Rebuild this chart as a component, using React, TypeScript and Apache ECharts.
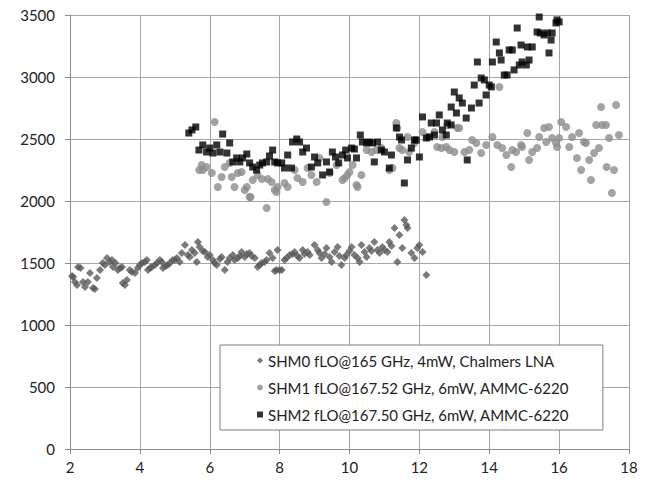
import React, { useEffect, useRef } from "react";
import * as echarts from "echarts";

const xTicks = { min: 2, max: 18, interval: 2 };
const yTicks = { min: 0, max: 3500, interval: 500 };

const seriesNames = [
  "SHM0 fLO@165 GHz, 4mW, Chalmers LNA",
  "SHM1 fLO@167.52 GHz, 6mW, AMMC-6220",
  "SHM2 fLO@167.50 GHz, 6mW, AMMC-6220",
];

const shm0: [number, number][] = [
  [2.06, 1395], [2.09, 1387], [2.14, 1347], [2.2, 1323], [2.23, 1468], [2.3, 1460], [2.37, 1347],
  [2.43, 1307], [2.51, 1347], [2.57, 1419], [2.66, 1298], [2.71, 1290], [2.77, 1379], [2.86, 1443],
  [2.94, 1500], [3.0, 1484], [3.06, 1540], [3.14, 1508], [3.2, 1524], [3.23, 1468], [3.3, 1500],
  [3.37, 1443], [3.43, 1460], [3.49, 1468], [3.51, 1339], [3.57, 1323], [3.63, 1363], [3.71, 1443],
  [3.77, 1427], [3.86, 1419], [3.94, 1460], [4.0, 1484], [4.06, 1500], [4.14, 1508], [4.2, 1524],
  [4.23, 1443], [4.29, 1460], [4.34, 1468], [4.43, 1484], [4.49, 1500], [4.57, 1524], [4.63, 1508],
  [4.66, 1460], [4.74, 1476], [4.8, 1484], [4.86, 1500], [4.94, 1524], [5.0, 1524], [5.06, 1540],
  [5.14, 1508], [5.2, 1581], [5.29, 1645], [5.37, 1565], [5.43, 1548], [5.49, 1605], [5.57, 1581],
  [5.63, 1508], [5.66, 1669], [5.71, 1629], [5.8, 1597], [5.86, 1589], [5.94, 1548], [6.0, 1565],
  [6.09, 1524], [6.14, 1500], [6.2, 1484], [6.29, 1532], [6.34, 1548], [6.43, 1443], [6.51, 1508],
  [6.57, 1540], [6.66, 1565], [6.71, 1524], [6.8, 1540], [6.86, 1556], [6.91, 1589], [7.0, 1548],
  [7.06, 1573], [7.14, 1581], [7.2, 1556], [7.29, 1540], [7.37, 1468], [7.43, 1484], [7.49, 1500],
  [7.57, 1508], [7.63, 1524], [7.71, 1581], [7.8, 1540], [7.86, 1435], [7.91, 1443], [7.94, 1605],
  [8.0, 1443], [8.06, 1443], [8.14, 1524], [8.2, 1540], [8.29, 1565], [8.37, 1573], [8.43, 1589],
  [8.51, 1556], [8.57, 1540], [8.66, 1605], [8.71, 1573], [8.8, 1589], [8.86, 1565], [9.0, 1645],
  [9.09, 1605], [9.14, 1581], [9.2, 1540], [9.29, 1573], [9.34, 1621], [9.43, 1548], [9.49, 1508],
  [9.57, 1589], [9.66, 1629], [9.71, 1556], [9.77, 1484], [9.86, 1540], [9.91, 1565], [10.0, 1597],
  [10.06, 1629], [10.14, 1565], [10.23, 1540], [10.29, 1508], [10.34, 1645], [10.43, 1589],
  [10.49, 1548], [10.57, 1621], [10.63, 1597], [10.71, 1669], [10.8, 1605], [10.86, 1581],
  [10.94, 1629], [11.0, 1605], [11.09, 1589], [11.14, 1669], [11.2, 1637], [11.29, 1782],
  [11.37, 1508], [11.43, 1726], [11.51, 1621], [11.57, 1847], [11.63, 1806], [11.66, 1782],
  [11.77, 1581], [11.86, 1540], [11.94, 1621], [12.0, 1645], [12.09, 1589], [12.2, 1403],
];

const shm1: [number, number][] = [
  [5.7, 2250], [5.77, 2290], [5.8, 2250], [5.91, 2274], [6.06, 2226], [6.14, 2637], [6.23, 2113],
  [6.34, 2194], [6.43, 2274], [6.57, 2307], [6.63, 2194], [6.71, 2113], [6.8, 2226], [6.91, 2234],
  [7.0, 2089], [7.06, 2113], [7.14, 2032], [7.17, 2032], [7.23, 2169], [7.37, 2210], [7.49, 2177],
  [7.63, 1944], [7.66, 2177], [7.77, 2153], [7.86, 2089], [7.91, 2073], [7.94, 2113], [8.14, 2145],
  [8.23, 2113], [8.43, 2250], [8.51, 2186], [8.66, 2153], [8.8, 2266], [8.91, 2210], [9.06, 2153],
  [9.14, 2347], [9.34, 1992], [9.43, 2226], [9.63, 2290], [9.8, 2169], [9.86, 2186], [9.94, 2210],
  [10.0, 2234], [10.09, 2290], [10.2, 2129], [10.23, 2113], [10.34, 2210], [10.49, 2411],
  [10.63, 2395], [10.77, 2411], [10.91, 2427], [11.14, 2250], [11.23, 2266], [11.34, 2629],
  [11.37, 2589], [11.43, 2427], [11.51, 2411], [11.66, 2516], [11.71, 2395], [11.86, 2468],
  [12.09, 2557], [12.23, 2516], [12.43, 2557], [12.51, 2435], [12.63, 2427], [12.66, 2516],
  [12.77, 2435], [12.8, 2613], [12.86, 2411], [13.0, 2395], [13.09, 2589], [13.14, 2589],
  [13.29, 2395], [13.43, 2411], [13.51, 2492], [13.63, 2468], [13.77, 2387], [13.91, 2452],
  [14.09, 2516], [14.23, 2452], [14.29, 2919], [14.37, 2427], [14.49, 2371], [14.63, 2274],
  [14.66, 2411], [14.77, 2395], [14.91, 2452], [14.94, 2435], [15.09, 2548], [15.14, 2331],
  [15.23, 2395], [15.37, 2427], [15.43, 2516], [15.57, 2589], [15.63, 2476], [15.71, 2597],
  [15.8, 2508], [15.91, 2468], [15.94, 2435], [16.0, 2508], [16.06, 2637], [16.2, 2597],
  [16.29, 2435], [16.37, 2516], [16.51, 2347], [16.57, 2548], [16.63, 2250], [16.71, 2476],
  [16.77, 2468], [16.86, 2331], [16.91, 2169], [17.0, 2387], [17.06, 2613], [17.14, 2427],
  [17.2, 2758], [17.23, 2613], [17.34, 2613], [17.36, 2274], [17.43, 2508], [17.51, 2065],
  [17.57, 2250], [17.63, 2774], [17.71, 2532],
];

const shm2: [number, number][] = [
  [5.4, 2548], [5.49, 2573], [5.6, 2597], [5.69, 2411], [5.8, 2452], [5.91, 2395], [6.0, 2427],
  [6.09, 2387], [6.2, 2452], [6.29, 2395], [6.37, 2540], [6.49, 2387], [6.57, 2468], [6.66, 2315],
  [6.77, 2347], [6.86, 2315], [6.94, 2347], [7.06, 2379], [7.14, 2307], [7.23, 2274], [7.34, 2250],
  [7.43, 2290], [7.51, 2307], [7.63, 2315], [7.71, 2363], [7.8, 2411], [7.86, 2315], [7.94, 2307],
  [8.06, 2307], [8.14, 2266], [8.23, 2371], [8.34, 2266], [8.37, 2476], [8.49, 2500], [8.57, 2476],
  [8.66, 2395], [8.77, 2427], [8.91, 2274], [9.0, 2355], [9.09, 2307], [9.23, 2210], [9.34, 2315],
  [9.43, 2234], [9.51, 2395], [9.6, 2355], [9.69, 2307], [9.8, 2371], [9.89, 2411], [9.94, 2347],
  [10.06, 2427], [10.14, 2419], [10.2, 2347], [10.31, 2532], [10.37, 2476], [10.49, 2468],
  [10.57, 2476], [10.66, 2468], [10.71, 2315], [10.8, 2476], [10.91, 2411], [11.0, 2395],
  [11.14, 2266], [11.2, 2371], [11.34, 2589], [11.43, 2516], [11.49, 2492], [11.57, 2145],
  [11.66, 2331], [11.77, 2427], [11.86, 2492], [11.91, 2492], [12.0, 2355], [12.09, 2678],
  [12.2, 2508], [12.29, 2516], [12.34, 2629], [12.43, 2532], [12.49, 2629], [12.57, 2694],
  [12.66, 2573], [12.77, 2532], [12.8, 2629], [12.91, 2613], [12.91, 2758], [13.0, 2879],
  [13.06, 2710], [13.14, 2831], [13.23, 2790], [13.34, 2669], [13.37, 2331], [13.49, 2750],
  [13.57, 2935], [13.66, 3121], [13.71, 2790], [13.77, 2992], [13.86, 2976], [13.91, 2855],
  [14.0, 2935], [14.06, 2920], [14.09, 3121], [14.2, 3282], [14.29, 3194], [14.34, 3137],
  [14.43, 3016], [14.51, 3016], [14.57, 3218], [14.66, 3218], [14.71, 3057], [14.8, 3395],
  [14.86, 3097], [14.91, 3258], [14.94, 3121], [15.06, 3097], [15.09, 3242], [15.14, 3137],
  [15.23, 3242], [15.37, 3363], [15.43, 3484], [15.46, 3355], [15.57, 3339], [15.66, 3355],
  [15.71, 3194], [15.77, 3298], [15.8, 3355], [15.91, 3436], [15.94, 3460], [16.0, 3444],
];

const FONT = "Lato";

export default function App() {
  const ref = useRef<HTMLDivElement>(null);
  useEffect(() => {
    if (!ref.current) return;
    const chart = echarts.init(ref.current, undefined, { renderer: "svg" });
    chart.setOption({
      animation: false,
      backgroundColor: "#ffffff",
      textStyle: { fontFamily: FONT },
      grid: { left: 70, right: 16, top: 15, bottom: 40 },
      xAxis: {
        type: "value",
        min: xTicks.min,
        max: xTicks.max,
        interval: xTicks.interval,
        axisLine: { show: true, lineStyle: { color: "#8c8c8c", width: 1 } },
        axisTick: { show: true, length: 5, lineStyle: { color: "#8c8c8c" } },
        splitLine: { show: true, lineStyle: { color: "#a6a6a6", width: 1 } },
        axisLabel: { color: "#222", fontSize: 15, fontFamily: FONT, margin: 10, formatter: (v: number) => String(v) },
      },
      yAxis: {
        type: "value",
        min: yTicks.min,
        max: yTicks.max,
        interval: yTicks.interval,
        axisLine: { show: true, lineStyle: { color: "#8c8c8c", width: 1 } },
        axisTick: { show: true, length: 5, lineStyle: { color: "#8c8c8c" } },
        splitLine: { show: true, lineStyle: { color: "#a6a6a6", width: 1 } },
        axisLabel: { color: "#222", fontSize: 15, fontFamily: FONT, margin: 15, formatter: (v: number) => String(v) },
      },
      legend: {
        left: 220,
        top: 345,
        orient: "vertical",
        borderColor: "#7f7f7f",
        borderWidth: 1,
        backgroundColor: "#ffffff",
        padding: [8, 34, 8, 37],
        itemGap: 12,
        itemWidth: 6,
        itemHeight: 6,
        textStyle: { color: "#222", fontSize: 15, fontFamily: FONT },
        data: [
          { name: seriesNames[0], icon: "diamond" },
          { name: seriesNames[1], icon: "circle" },
          { name: seriesNames[2], icon: "rect" },
        ],
      },
      series: [
        {
          name: seriesNames[0],
          type: "scatter",
          data: shm0,
          symbol: "diamond",
          symbolSize: 8,
          itemStyle: { color: "#595959" },
          z: 2,
        },
        {
          name: seriesNames[1],
          type: "scatter",
          data: shm1,
          symbol: "circle",
          symbolSize: 8,
          itemStyle: { color: "#8c8c8c" },
          z: 3,
        },
        {
          name: seriesNames[2],
          type: "scatter",
          data: shm2,
          symbol: "rect",
          symbolSize: 7,
          itemStyle: { color: "#000000" },
          z: 4,
        },
      ],
    });
    return () => chart.dispose();
  }, []);
  return <div ref={ref} style={{ width: 645, height: 489, position: "absolute", left: 0, top: 0 }} />;
}
